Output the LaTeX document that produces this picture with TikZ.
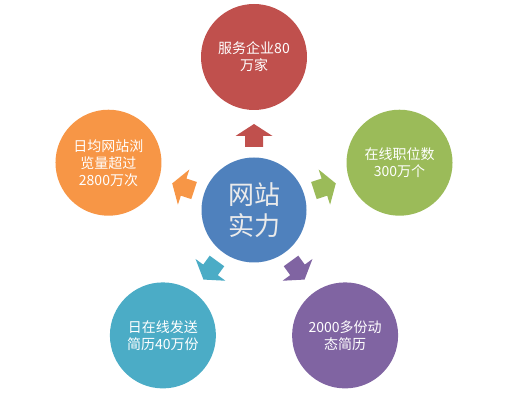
\documentclass[tikz,border=0pt]{standalone}
\usepackage{fontspec}
\usetikzlibrary{calc}
\setmainfont{Noto Sans CJK SC}
\definecolor{cred}{HTML}{C0504D}
\definecolor{cgreen}{HTML}{9BBB59}
\definecolor{corange}{HTML}{F79646}
\definecolor{cteal}{HTML}{4BACC6}
\definecolor{cpurple}{HTML}{8064A2}
\definecolor{cblue}{HTML}{4F81BD}
\begin{document}
\begin{tikzpicture}[x=1pt,y=1pt,
  bubble/.style={circle,minimum size=106pt,inner sep=0pt,text=white,align=center,
    font=\fontsize{14pt}{17pt}\selectfont},
  hub/.style={circle,minimum size=105pt,inner sep=0pt,fill=cblue,text=white!92!black,align=center,
    font=\fontsize{26pt}{31pt}\selectfont}]
\useasboundingbox (0,0) rectangle (513,406);
\coordinate (c) at (254,196);
\node[hub] (hubn) at (c) {网站\\实力};
\node[bubble,fill=cred] (n1) at ($(c)+(90:153)$) {服务企业80\\万家};
\node[bubble,fill=cgreen] (n2) at ($(c)+(18:153)$) {在线职位数\\300万个};
\node[bubble,fill=cpurple] (n3) at ($(c)+(-54:155)$) {2000多份动\\态简历};
\node[bubble,fill=cteal] (n4) at ($(c)+(-126:155)$) {日在线发送\\简历40万份};
\node[bubble,fill=corange] (n5) at ($(c)+(162:153)$) {日均网站浏\\览量超过\\2800万次};
\foreach \ang/\col in {90/cred,18/cgreen,-54/cpurple,-126/cteal,162/corange}{
  \begin{scope}[shift={(c)},rotate=\ang]
    \fill[\col] (63,-9) -- (74,-9) -- (74,-18.5) -- (86,0) -- (74,18.5) -- (74,9) -- (63,9) -- cycle;
  \end{scope}
}
\end{tikzpicture}
\end{document}
